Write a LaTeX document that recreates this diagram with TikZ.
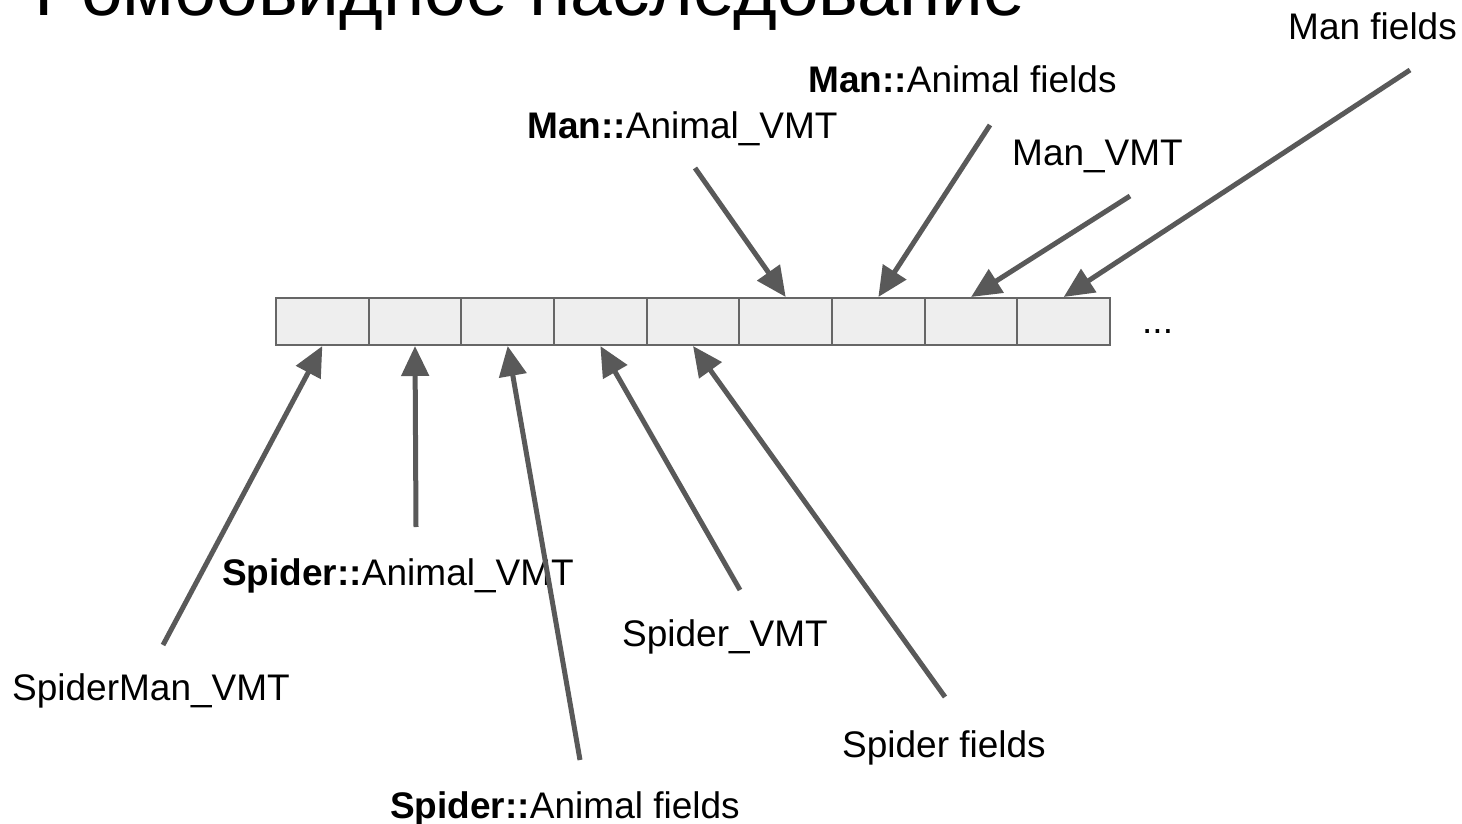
\documentclass[tikz,border=0pt]{standalone}
\usepackage{fontspec}
\setmainfont{Liberation Sans}
\usetikzlibrary{arrows.meta}
\definecolor{arrowgray}{HTML}{595959}
\definecolor{cellfill}{HTML}{EEEEEE}
\definecolor{cellline}{HTML}{666666}
\tikzset{
  cellbox/.style={draw=cellline, fill=cellfill, line width=2pt, minimum width=92.67pt, minimum height=47pt, inner sep=0pt, anchor=north west},
  lbl/.style={anchor=base west, inner sep=0pt, font=\fontsize{37}{42}\selectfont},
  ptr/.style={draw=arrowgray, line width=5pt, -{Triangle[length=30pt, width=27pt]}},
}
\begin{document}
\begin{tikzpicture}[x=1pt,y=-1pt]
\useasboundingbox (0,0) rectangle (1462,824);
% title (cut off at the top)
\node[anchor=base west, inner sep=0pt, font=\fontsize{75}{80}\selectfont] (title) at (34,16) {Ромбовидное наследование};
% memory cells
\foreach \i in {1,...,9} {
  \node[cellbox] (c\i) at ({275+(\i-1)*92.67},297) {};
}
\node[lbl] (dots) at (1142,333) {...};
% labels
\node[lbl] (lmf) at (1288,40) {Man fields};
\node[lbl] (lmaf) at (808,93) {\textbf{Man::}Animal fields};
\node[lbl] (lmav) at (527,139) {\textbf{Man::}Animal\_VMT};
\node[lbl] (lmv) at (1012,166) {Man\_VMT};
\node[lbl] (lsmv) at (12,700) {SpiderMan\_VMT};
\node[lbl] (lsav) at (222,585) {\textbf{Spider::}Animal\_VMT};
\node[lbl] (lsv) at (622,646) {Spider\_VMT};
\node[lbl] (lsf) at (842,757) {Spider fields};
\node[lbl] (lsaf) at (390,818) {\textbf{Spider::}Animal fields};
% arrow tails
\coordinate (tmav) at (695,168);
\coordinate (tmaf) at (990,125);
\coordinate (tmv) at (1130,196);
\coordinate (tmf) at (1410,70);
\coordinate (tsmv) at (163,645);
\coordinate (tsav) at (416,527);
\coordinate (tsaf) at (580,760);
\coordinate (tsv) at (740,590);
\coordinate (tsf) at (945,697);
% arrows
\draw[ptr] (tmav) -- (c6.north);
\draw[ptr] (tmaf) -- (c7.north);
\draw[ptr] (tmv) -- (c8.north);
\draw[ptr] (tmf) -- (c9.north);
\draw[ptr] (tsmv) -- (c1.south);
\draw[ptr] (tsav) -- (c2.south);
\draw[ptr] (tsaf) -- (c3.south);
\draw[ptr] (tsv) -- (c4.south);
\draw[ptr] (tsf) -- (c5.south);
\end{tikzpicture}
\end{document}
